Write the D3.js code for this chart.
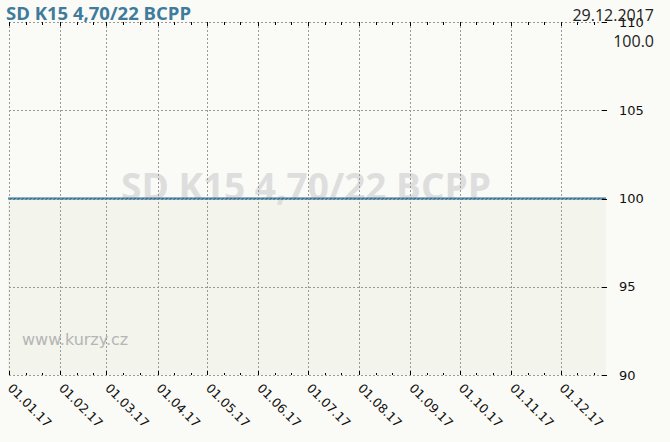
<!DOCTYPE html>
<html><head><meta charset="utf-8">
<script src="https://cdn.jsdelivr.net/npm/d3@7"></script>
<style>
html,body{margin:0;padding:0;background:#fafaf6;}
svg{display:block;}
</style></head>
<body>
<svg id="c" width="670" height="442"></svg>
<script>
const title = "SD K15 4,70/22 BCPP";
const lastDate = "29.12.2017";
const lastValue = "100.0";
const watermark = "www.kurzy.cz";
const dates = ["2017-01-01","2017-02-01","2017-03-01","2017-04-01","2017-05-01","2017-06-01","2017-07-01","2017-08-01","2017-09-01","2017-10-01","2017-11-01","2017-12-01","2017-12-29"];
const values = [100,100,100,100,100,100,100,100,100,100,100,100,100];
const yTicks = [90,95,100,105,110];
const xTickLabels = ["01.01.17","01.02.17","01.03.17","01.04.17","01.05.17","01.06.17","01.07.17","01.08.17","01.09.17","01.10.17","01.11.17","01.12.17"];

const parse = d3.timeParse("%Y-%m-%d");
const data = dates.map((d,i)=>({date:parse(d), v:values[i]}));
const L=9, R=607, T=22, B=375;
const svg = d3.select("#c");
const x = d3.scaleTime().domain([parse("2017-01-01"), parse("2017-12-29")]).range([L,R]);
const y = d3.scaleLinear().domain([90,110]).range([B,T]);

// area fill
svg.append("path").datum(data)
  .attr("d", d3.area().x(d=>x(d.date)).y0(B).y1(d=>y(d.v)))
  .attr("fill","#f3f4ec").attr("transform","translate(-1,0)");

// watermark big title
svg.append("text").attr("x",306).attr("y",200).attr("text-anchor","middle")
  .attr("font-family","Open Sans, sans-serif").attr("font-weight","bold").attr("font-size",37)
  .attr("fill","#dedede").text(title);
svg.append("text").attr("x",22).attr("y",345)
  .attr("font-family","DejaVu Sans, sans-serif").attr("font-size",16)
  .attr("fill","#b5b5b5").text(watermark);

// grid
const monthTicks = d3.timeMonth.range(parse("2017-01-01"), parse("2017-12-30"));
const gridStyle = s=>s.attr("stroke","#999").attr("stroke-dasharray","2,2").attr("stroke-width",1);
svg.append("g").selectAll("line").data(monthTicks).join("line")
  .attr("x1",d=>Math.round(x(d))+0.5).attr("x2",d=>Math.round(x(d))+0.5)
  .attr("y1",T).attr("y2",B).call(gridStyle);
svg.append("g").selectAll("line").data(yTicks).join("line")
  .attr("x1",L).attr("x2",R).attr("y1",d=>Math.round(y(d))+0.5).attr("y2",d=>Math.round(y(d))+0.5)
  .call(gridStyle);

// line
svg.append("path").datum(data)
  .attr("d", d3.line().x(d=>x(d.date)).y(d=>y(d.v)))
  .attr("fill","none").attr("stroke","#2f6f96").attr("stroke-width",2).attr("transform","translate(-1,0)");
svg.append("path").datum(data)
  .attr("d", d3.line().x(d=>x(d.date)).y(d=>y(d.v)-0.5))
  .attr("fill","none").attr("stroke","#8fb0c4").attr("stroke-width",1).attr("stroke-dasharray","2,2").attr("transform","translate(-1,0)");

// minor ticks days 1, 11, 21
const minor = [];
monthTicks.forEach(m=>{[1,11,21].forEach(dd=>{const d=new Date(m.getFullYear(),m.getMonth(),dd); if(d<=parse("2017-12-29")) minor.push({d, major:dd===1});});});
const tk = svg.append("g").attr("stroke","#000").attr("stroke-width",1);
tk.selectAll("line.t").data(minor).join("line").attr("class","t")
  .attr("x1",d=>Math.round(x(d.d))+0.5).attr("x2",d=>Math.round(x(d.d))+0.5)
  .attr("y1",T).attr("y2",d=>T+(d.major?4:3));
tk.selectAll("line.b").data(minor).join("line").attr("class","b")
  .attr("x1",d=>Math.round(x(d.d))+0.5).attr("x2",d=>Math.round(x(d.d))+0.5)
  .attr("y1",B).attr("y2",d=>B-(d.major?4:2));
// y ticks on right
tk.selectAll("line.y").data(yTicks).join("line").attr("class","y")
  .attr("x1",R-5).attr("x2",R).attr("y1",d=>Math.round(y(d))+0.5).attr("y2",d=>Math.round(y(d))+0.5);

// y labels
svg.append("g").selectAll("text").data(yTicks).join("text")
  .attr("x",619).attr("y",d=>y(d)+4.5)
  .attr("font-family","DejaVu Sans, sans-serif").attr("font-size",13).attr("fill","#111")
  .text(d=>d);

// x labels
svg.append("g").selectAll("text").data(monthTicks).join("text")
  .attr("transform",d=>`translate(${x(d)-2},${B+14}) rotate(45)`)
  .attr("font-family","DejaVu Sans, sans-serif").attr("font-size",12.5).attr("fill","#111")
  .text((d,i)=>xTickLabels[i]);

// header
svg.append("text").attr("x",6).attr("y",20)
  .attr("font-family","Open Sans, sans-serif").attr("font-weight","bold").attr("font-size",18.5)
  .attr("fill","#3e7b9c").text(title);
svg.append("text").attr("x",654).attr("y",21).attr("text-anchor","end")
  .attr("font-family","Open Sans, sans-serif").attr("font-size",16).attr("fill","#222").text(lastDate);
svg.append("text").attr("x",654).attr("y",47).attr("text-anchor","end")
  .attr("font-family","Open Sans, sans-serif").attr("font-size",16).attr("fill","#222").text(lastValue);
</script>
</body></html>
